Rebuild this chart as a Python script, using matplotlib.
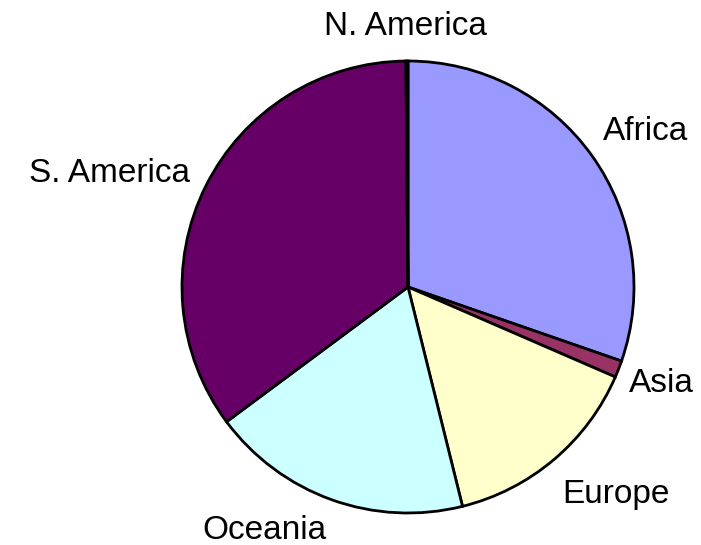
import matplotlib
matplotlib.use('Agg')
import matplotlib.pyplot as plt

# share of each region, clockwise from 12 o'clock
regions = ['Africa', 'Asia', 'Europe', 'Oceania', 'S. America', 'N. America']
shares = [30.3, 1.2, 14.6, 18.7, 35.0, 0.15]
colors = ['#9999FF', '#993366', '#FFFFCC', '#CCFFFF', '#660066', '#FF8080']

# label anchors (centre x, baseline y) in pie radius units
label_pos = [(1.053, 0.650), (1.119, -0.465), (0.920, -0.956),
             (-0.637, -1.115), (-1.323, 0.465), (-0.013, 1.115)]

plt.rcParams['font.family'] = ['Liberation Sans', 'DejaVu Sans']

fig = plt.figure(figsize=(7.01, 5.45), dpi=100)
r_px = 226
cx, cy = 408, 287
ax = fig.add_axes([(cx - r_px) / 701, (545 - cy - r_px) / 545, 2 * r_px / 701, 2 * r_px / 545])

ax.pie(shares, colors=colors, startangle=90, counterclock=False, radius=1,
       wedgeprops=dict(edgecolor='black', linewidth=2.0))
ax.set_xlim(-1, 1)
ax.set_ylim(-1, 1)
ax.set_aspect('equal')
ax.axis('off')

for name, (x, y) in zip(regions, label_pos):
    ax.text(x, y, name, ha='center', va='baseline', fontsize=24, clip_on=False)

fig.savefig('out.png', dpi=100)
